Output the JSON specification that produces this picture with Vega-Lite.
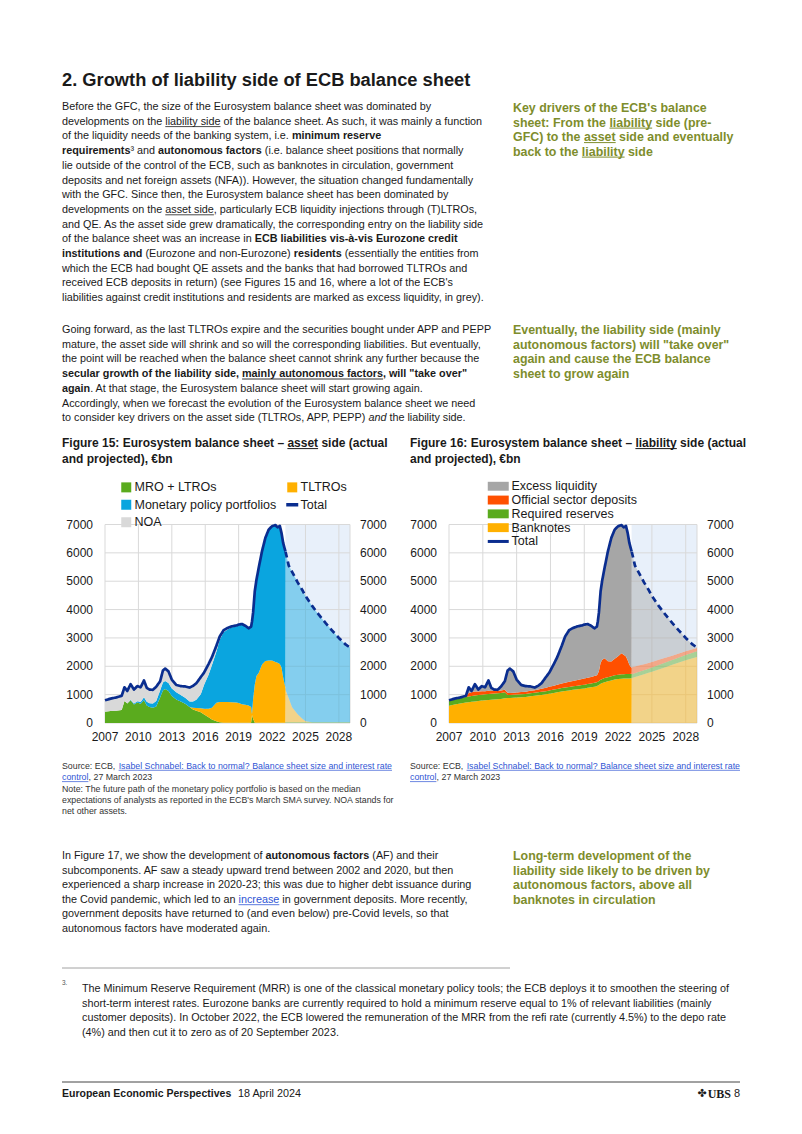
{
"$schema":"https://vega.github.io/schema/vega-lite/v6.json",
"width":802,"height":1134,"autosize":{"type":"none"},"padding":0,"background":"white",
"config":{"view":{"stroke":null}},
"datasets":{
"page":[
{"b":"title","l":0,"s":"2. Growth of liability side of ECB balance sheet"},
{"b":"p1","l":0,"s":"Before the GFC, the size of the Eurosystem balance sheet was dominated by"},
{"b":"p1","l":1,"s":"developments on the liability side of the balance sheet. As such, it was mainly a function"},
{"b":"p1","l":2,"s":"of the liquidity needs of the banking system, i.e."},
{"b":"p1x292","l":2,"s":"minimum reserve"},
{"b":"p1b","l":3,"s":"requirements"},
{"b":"p1x130","l":3,"s":"³ and"},
{"b":"p1x158","l":3,"s":"autonomous factors"},
{"b":"p1x265","l":3,"s":"(i.e. balance sheet positions that normally"},
{"b":"p1","l":4,"s":"lie outside of the control of the ECB, such as banknotes in circulation, government"},
{"b":"p1","l":5,"s":"deposits and net foreign assets (NFA)). However, the situation changed fundamentally"},
{"b":"p1","l":6,"s":"with the GFC. Since then, the Eurosystem balance sheet has been dominated by"},
{"b":"p1","l":7,"s":"developments on the asset side, particularly ECB liquidity injections through (T)LTROs,"},
{"b":"p1","l":8,"s":"and QE. As the asset side grew dramatically, the corresponding entry on the liability side"},
{"b":"p1","l":9,"s":"of the balance sheet was an increase in"},
{"b":"p1x255","l":9,"s":"ECB liabilities vis-à-vis Eurozone credit"},
{"b":"p1b","l":10,"s":"institutions and"},
{"b":"p1x145","l":10,"s":"(Eurozone and non-Eurozone)"},
{"b":"p1x294","l":10,"s":"residents"},
{"b":"p1x345","l":10,"s":"(essentially the entities from"},
{"b":"p1","l":11,"s":"which the ECB had bought QE assets and the banks that had borrowed TLTROs and"},
{"b":"p1","l":12,"s":"received ECB deposits in return) (see Figures 15 and 16, where a lot of the ECB's"},
{"b":"p1","l":13,"s":"liabilities against credit institutions and residents are marked as excess liquidity, in grey)."},
{"b":"s1","l":0,"s":"Key drivers of the ECB's balance"},
{"b":"s1","l":1,"s":"sheet: From the liability side (pre-"},
{"b":"s1","l":2,"s":"GFC) to the asset side and eventually"},
{"b":"s1","l":3,"s":"back to the liability side"},
{"b":"p2","l":0,"s":"Going forward, as the last TLTROs expire and the securities bought under APP and PEPP"},
{"b":"p2","l":1,"s":"mature, the asset side will shrink and so will the corresponding liabilities. But eventually,"},
{"b":"p2","l":2,"s":"the point will be reached when the balance sheet cannot shrink any further because the"},
{"b":"p2b","l":3,"s":"secular growth of the liability side, mainly autonomous factors, will \"take over\""},
{"b":"p2b","l":4,"s":"again"},
{"b":"p2x90","l":4,"s":". At that stage, the Eurosystem balance sheet will start growing again."},
{"b":"p2","l":5,"s":"Accordingly, when we forecast the evolution of the Eurosystem balance sheet we need"},
{"b":"p2","l":6,"s":"to consider key drivers on the asset side (TLTROs, APP, PEPP)"},
{"b":"p2i","l":6,"s":"and"},
{"b":"p2x392","l":6,"s":"the liability side."},
{"b":"s2","l":0,"s":"Eventually, the liability side (mainly"},
{"b":"s2","l":1,"s":"autonomous factors) will \"take over\""},
{"b":"s2","l":2,"s":"again and cause the ECB balance"},
{"b":"s2","l":3,"s":"sheet to grow again"},
{"b":"f15","l":0,"s":"Figure 15: Eurosystem balance sheet – asset side (actual"},
{"b":"f15","l":1,"s":"and projected), €bn"},
{"b":"f16","l":0,"s":"Figure 16: Eurosystem balance sheet – liability side (actual"},
{"b":"f16","l":1,"s":"and projected), €bn"},
{"b":"src15g","l":0,"s":"Source: ECB,"},
{"b":"src15c","l":1,"s":", 27 March 2023"},
{"b":"src15g","l":2,"s":"Note: The future path of the monetary policy portfolio is based on the median"},
{"b":"src15g","l":3,"s":"expectations of analysts as reported in the ECB's March SMA survey. NOA stands for"},
{"b":"src15g","l":4,"s":"net other assets."},
{"b":"src15b","l":1,"s":"control"},
{"b":"src15br","l":0,"s":"Isabel Schnabel: Back to normal? Balance sheet size and interest rate"},
{"b":"src16g","l":0,"s":"Source: ECB,"},
{"b":"src16c","l":1,"s":", 27 March 2023"},
{"b":"src16b","l":1,"s":"control"},
{"b":"src16br","l":0,"s":"Isabel Schnabel: Back to normal? Balance sheet size and interest rate"},
{"b":"p3","l":0,"s":"In Figure 17, we show the development of"},
{"b":"p3x266","l":0,"s":"autonomous factors"},
{"b":"p3x372","l":0,"s":"(AF) and their"},
{"b":"p3","l":1,"s":"subcomponents. AF saw a steady upward trend between 2002 and 2020, but then"},
{"b":"p3","l":2,"s":"experienced a sharp increase in 2020-23; this was due to higher debt issuance during"},
{"b":"p3","l":3,"s":"the Covid pandemic, which led to an"},
{"b":"p3x239","l":3,"s":"increase"},
{"b":"p3x282","l":3,"s":"in government deposits. More recently,"},
{"b":"p3","l":4,"s":"government deposits have returned to (and even below) pre-Covid levels, so that"},
{"b":"p3","l":5,"s":"autonomous factors have moderated again."},
{"b":"s3","l":0,"s":"Long-term development of the"},
{"b":"s3","l":1,"s":"liability side likely to be driven by"},
{"b":"s3","l":2,"s":"autonomous factors, above all"},
{"b":"s3","l":3,"s":"banknotes in circulation"},
{"b":"fnm","l":0,"s":"3."},
{"b":"fn","l":0,"s":"The Minimum Reserve Requirement (MRR) is one of the classical monetary policy tools; the ECB deploys it to smoothen the steering of"},
{"b":"fn","l":1,"s":"short-term interest rates. Eurozone banks are currently required to hold a minimum reserve equal to 1% of relevant liabilities (mainly"},
{"b":"fn","l":2,"s":"customer deposits). In October 2022, the ECB lowered the remuneration of the MRR from the refi rate (currently 4.5%) to the depo rate"},
{"b":"fn","l":3,"s":"(4%) and then cut it to zero as of 20 September 2023."},
{"b":"ftb","l":0,"s":"European Economic Perspectives"},
{"b":"ftd","l":0,"s":"18 April 2024"},
{"b":"ftu","l":0,"s":"UBS"},
{"b":"ft8","l":0,"s":"8"},
{"b":"ftl","l":0,"s":"✤"}
],
"c15":[
{"t":2007.0,"p":"a","MRO + LTROs":400,"TLTROs":0,"Monetary policy portfolios":0,"NOA":400},
{"t":2007.5,"p":"a","MRO + LTROs":420,"TLTROs":0,"Monetary policy portfolios":0,"NOA":440},
{"t":2008.0,"p":"a","MRO + LTROs":430,"TLTROs":0,"Monetary policy portfolios":0,"NOA":470},
{"t":2008.5,"p":"a","MRO + LTROs":460,"TLTROs":0,"Monetary policy portfolios":0,"NOA":500},
{"t":2008.75,"p":"a","MRO + LTROs":780,"TLTROs":0,"Monetary policy portfolios":0,"NOA":480},
{"t":2009.0,"p":"a","MRO + LTROs":690,"TLTROs":0,"Monetary policy portfolios":0,"NOA":440},
{"t":2009.3,"p":"a","MRO + LTROs":800,"TLTROs":0,"Monetary policy portfolios":20,"NOA":550},
{"t":2009.6,"p":"a","MRO + LTROs":650,"TLTROs":0,"Monetary policy portfolios":40,"NOA":490},
{"t":2009.9,"p":"a","MRO + LTROs":720,"TLTROs":0,"Monetary policy portfolios":50,"NOA":530},
{"t":2010.2,"p":"a","MRO + LTROs":680,"TLTROs":0,"Monetary policy portfolios":60,"NOA":520},
{"t":2010.5,"p":"a","MRO + LTROs":800,"TLTROs":0,"Monetary policy portfolios":110,"NOA":590},
{"t":2010.75,"p":"a","MRO + LTROs":620,"TLTROs":0,"Monetary policy portfolios":130,"NOA":490},
{"t":2011.0,"p":"a","MRO + LTROs":560,"TLTROs":0,"Monetary policy portfolios":140,"NOA":480},
{"t":2011.3,"p":"a","MRO + LTROs":540,"TLTROs":0,"Monetary policy portfolios":150,"NOA":480},
{"t":2011.6,"p":"a","MRO + LTROs":580,"TLTROs":0,"Monetary policy portfolios":200,"NOA":500},
{"t":2011.95,"p":"a","MRO + LTROs":900,"TLTROs":0,"Monetary policy portfolios":250,"NOA":320},
{"t":2012.2,"p":"a","MRO + LTROs":1150,"TLTROs":0,"Monetary policy portfolios":280,"NOA":420},
{"t":2012.4,"p":"a","MRO + LTROs":1200,"TLTROs":0,"Monetary policy portfolios":280,"NOA":440},
{"t":2012.7,"p":"a","MRO + LTROs":1130,"TLTROs":0,"Monetary policy portfolios":280,"NOA":410},
{"t":2013.0,"p":"a","MRO + LTROs":950,"TLTROs":0,"Monetary policy portfolios":270,"NOA":310},
{"t":2013.4,"p":"a","MRO + LTROs":830,"TLTROs":0,"Monetary policy portfolios":250,"NOA":260},
{"t":2013.8,"p":"a","MRO + LTROs":760,"TLTROs":0,"Monetary policy portfolios":230,"NOA":310},
{"t":2014.2,"p":"a","MRO + LTROs":680,"TLTROs":0,"Monetary policy portfolios":210,"NOA":400},
{"t":2014.6,"p":"a","MRO + LTROs":560,"TLTROs":0,"Monetary policy portfolios":200,"NOA":490},
{"t":2014.9,"p":"a","MRO + LTROs":480,"TLTROs":60,"Monetary policy portfolios":220,"NOA":550},
{"t":2015.2,"p":"a","MRO + LTROs":430,"TLTROs":100,"Monetary policy portfolios":290,"NOA":580},
{"t":2015.6,"p":"a","MRO + LTROs":380,"TLTROs":140,"Monetary policy portfolios":490,"NOA":610},
{"t":2015.9,"p":"a","MRO + LTROs":300,"TLTROs":200,"Monetary policy portfolios":850,"NOA":430},
{"t":2016.3,"p":"a","MRO + LTROs":200,"TLTROs":300,"Monetary policy portfolios":1200,"NOA":380},
{"t":2016.6,"p":"a","MRO + LTROs":120,"TLTROs":420,"Monetary policy portfolios":1500,"NOA":280},
{"t":2017.0,"p":"a","MRO + LTROs":60,"TLTROs":650,"Monetary policy portfolios":1800,"NOA":210},
{"t":2017.3,"p":"a","MRO + LTROs":30,"TLTROs":710,"Monetary policy portfolios":2200,"NOA":110},
{"t":2017.65,"p":"a","MRO + LTROs":10,"TLTROs":730,"Monetary policy portfolios":2460,"NOA":70},
{"t":2018.0,"p":"a","MRO + LTROs":5,"TLTROs":735,"Monetary policy portfolios":2560,"NOA":50},
{"t":2018.4,"p":"a","MRO + LTROs":5,"TLTROs":730,"Monetary policy portfolios":2640,"NOA":35},
{"t":2018.8,"p":"a","MRO + LTROs":5,"TLTROs":720,"Monetary policy portfolios":2690,"NOA":25},
{"t":2019.0,"p":"a","MRO + LTROs":5,"TLTROs":700,"Monetary policy portfolios":2745,"NOA":20},
{"t":2019.3,"p":"a","MRO + LTROs":5,"TLTROs":660,"Monetary policy portfolios":2810,"NOA":15},
{"t":2019.6,"p":"a","MRO + LTROs":5,"TLTROs":640,"Monetary policy portfolios":2775,"NOA":10},
{"t":2019.9,"p":"a","MRO + LTROs":5,"TLTROs":610,"Monetary policy portfolios":2715,"NOA":10},
{"t":2020.12,"p":"a","MRO + LTROs":5,"TLTROs":560,"Monetary policy portfolios":2825,"NOA":10},
{"t":2020.2,"p":"a","MRO + LTROs":280,"TLTROs":30,"Monetary policy portfolios":3260,"NOA":10},
{"t":2020.3,"p":"a","MRO + LTROs":150,"TLTROs":700,"Monetary policy portfolios":3040,"NOA":10},
{"t":2020.45,"p":"a","MRO + LTROs":10,"TLTROs":1350,"Monetary policy portfolios":3280,"NOA":10},
{"t":2020.6,"p":"a","MRO + LTROs":5,"TLTROs":1650,"Monetary policy portfolios":3385,"NOA":10},
{"t":2020.8,"p":"a","MRO + LTROs":5,"TLTROs":1760,"Monetary policy portfolios":3695,"NOA":10},
{"t":2021.1,"p":"a","MRO + LTROs":5,"TLTROs":2060,"Monetary policy portfolios":3985,"NOA":10},
{"t":2021.4,"p":"a","MRO + LTROs":5,"TLTROs":2180,"Monetary policy portfolios":4335,"NOA":10},
{"t":2021.7,"p":"a","MRO + LTROs":5,"TLTROs":2200,"Monetary policy portfolios":4605,"NOA":10},
{"t":2022.0,"p":"a","MRO + LTROs":5,"TLTROs":2200,"Monetary policy portfolios":4725,"NOA":10},
{"t":2022.3,"p":"a","MRO + LTROs":5,"TLTROs":2150,"Monetary policy portfolios":4815,"NOA":10},
{"t":2022.5,"p":"a","MRO + LTROs":5,"TLTROs":2120,"Monetary policy portfolios":4765,"NOA":10},
{"t":2022.7,"p":"a","MRO + LTROs":5,"TLTROs":2080,"Monetary policy portfolios":4855,"NOA":10},
{"t":2022.85,"p":"a","MRO + LTROs":5,"TLTROs":1950,"Monetary policy portfolios":4735,"NOA":10},
{"t":2023.0,"p":"a","MRO + LTROs":5,"TLTROs":1600,"Monetary policy portfolios":4735,"NOA":10},
{"t":2023.2,"p":"a","MRO + LTROs":5,"TLTROs":1250,"Monetary policy portfolios":4785,"NOA":10},
{"t":2023.21,"p":"p","MRO + LTROs":25,"TLTROs":1150,"Monetary policy portfolios":4865,"NOA":0},
{"t":2023.5,"p":"p","MRO + LTROs":25,"TLTROs":850,"Monetary policy portfolios":4675,"NOA":0},
{"t":2023.8,"p":"p","MRO + LTROs":25,"TLTROs":530,"Monetary policy portfolios":4775,"NOA":0},
{"t":2024.3,"p":"p","MRO + LTROs":25,"TLTROs":280,"Monetary policy portfolios":4655,"NOA":0},
{"t":2024.7,"p":"p","MRO + LTROs":25,"TLTROs":130,"Monetary policy portfolios":4545,"NOA":0},
{"t":2025.0,"p":"p","MRO + LTROs":25,"TLTROs":40,"Monetary policy portfolios":4415,"NOA":0},
{"t":2025.6,"p":"p","MRO + LTROs":25,"TLTROs":0,"Monetary policy portfolios":4105,"NOA":0},
{"t":2026.2,"p":"p","MRO + LTROs":25,"TLTROs":0,"Monetary policy portfolios":3795,"NOA":0},
{"t":2026.8,"p":"p","MRO + LTROs":25,"TLTROs":0,"Monetary policy portfolios":3505,"NOA":0},
{"t":2027.4,"p":"p","MRO + LTROs":25,"TLTROs":0,"Monetary policy portfolios":3235,"NOA":0},
{"t":2028.0,"p":"p","MRO + LTROs":25,"TLTROs":0,"Monetary policy portfolios":2975,"NOA":0},
{"t":2028.6,"p":"p","MRO + LTROs":25,"TLTROs":0,"Monetary policy portfolios":2745,"NOA":0},
{"t":2029.0,"p":"p","MRO + LTROs":25,"TLTROs":0,"Monetary policy portfolios":2635,"NOA":0}
],
"c16":[
{"t":2007.0,"p":"a","Banknotes":610,"Required reserves":170,"Official sector deposits":20,"Excess liquidity":0},
{"t":2007.5,"p":"a","Banknotes":650,"Required reserves":180,"Official sector deposits":30,"Excess liquidity":0},
{"t":2008.0,"p":"a","Banknotes":690,"Required reserves":195,"Official sector deposits":15,"Excess liquidity":0},
{"t":2008.5,"p":"a","Banknotes":720,"Required reserves":200,"Official sector deposits":40,"Excess liquidity":0},
{"t":2008.75,"p":"a","Banknotes":735,"Required reserves":200,"Official sector deposits":120,"Excess liquidity":205},
{"t":2009.0,"p":"a","Banknotes":745,"Required reserves":205,"Official sector deposits":130,"Excess liquidity":50},
{"t":2009.3,"p":"a","Banknotes":760,"Required reserves":210,"Official sector deposits":140,"Excess liquidity":260},
{"t":2009.6,"p":"a","Banknotes":775,"Required reserves":210,"Official sector deposits":130,"Excess liquidity":65},
{"t":2009.9,"p":"a","Banknotes":790,"Required reserves":210,"Official sector deposits":120,"Excess liquidity":180},
{"t":2010.2,"p":"a","Banknotes":800,"Required reserves":210,"Official sector deposits":110,"Excess liquidity":140},
{"t":2010.5,"p":"a","Banknotes":810,"Required reserves":210,"Official sector deposits":120,"Excess liquidity":360},
{"t":2010.75,"p":"a","Banknotes":820,"Required reserves":210,"Official sector deposits":100,"Excess liquidity":110},
{"t":2011.0,"p":"a","Banknotes":830,"Required reserves":210,"Official sector deposits":90,"Excess liquidity":50},
{"t":2011.3,"p":"a","Banknotes":840,"Required reserves":210,"Official sector deposits":80,"Excess liquidity":40},
{"t":2011.6,"p":"a","Banknotes":850,"Required reserves":210,"Official sector deposits":90,"Excess liquidity":130},
{"t":2011.95,"p":"a","Banknotes":870,"Required reserves":210,"Official sector deposits":90,"Excess liquidity":300},
{"t":2012.2,"p":"a","Banknotes":880,"Required reserves":110,"Official sector deposits":80,"Excess liquidity":780},
{"t":2012.4,"p":"a","Banknotes":885,"Required reserves":105,"Official sector deposits":70,"Excess liquidity":860},
{"t":2012.7,"p":"a","Banknotes":890,"Required reserves":105,"Official sector deposits":70,"Excess liquidity":755},
{"t":2013.0,"p":"a","Banknotes":900,"Required reserves":105,"Official sector deposits":70,"Excess liquidity":455},
{"t":2013.4,"p":"a","Banknotes":910,"Required reserves":105,"Official sector deposits":80,"Excess liquidity":245},
{"t":2013.8,"p":"a","Banknotes":920,"Required reserves":105,"Official sector deposits":80,"Excess liquidity":195},
{"t":2014.2,"p":"a","Banknotes":940,"Required reserves":105,"Official sector deposits":90,"Excess liquidity":155},
{"t":2014.6,"p":"a","Banknotes":960,"Required reserves":105,"Official sector deposits":90,"Excess liquidity":95},
{"t":2014.9,"p":"a","Banknotes":975,"Required reserves":110,"Official sector deposits":100,"Excess liquidity":125},
{"t":2015.2,"p":"a","Banknotes":990,"Required reserves":110,"Official sector deposits":110,"Excess liquidity":190},
{"t":2015.6,"p":"a","Banknotes":1010,"Required reserves":112,"Official sector deposits":120,"Excess liquidity":378},
{"t":2015.9,"p":"a","Banknotes":1030,"Required reserves":115,"Official sector deposits":130,"Excess liquidity":505},
{"t":2016.3,"p":"a","Banknotes":1060,"Required reserves":117,"Official sector deposits":140,"Excess liquidity":763},
{"t":2016.6,"p":"a","Banknotes":1080,"Required reserves":118,"Official sector deposits":150,"Excess liquidity":972},
{"t":2017.0,"p":"a","Banknotes":1110,"Required reserves":120,"Official sector deposits":160,"Excess liquidity":1330},
{"t":2017.3,"p":"a","Banknotes":1130,"Required reserves":122,"Official sector deposits":170,"Excess liquidity":1628},
{"t":2017.65,"p":"a","Banknotes":1150,"Required reserves":123,"Official sector deposits":180,"Excess liquidity":1817},
{"t":2018.0,"p":"a","Banknotes":1170,"Required reserves":125,"Official sector deposits":190,"Excess liquidity":1865},
{"t":2018.4,"p":"a","Banknotes":1190,"Required reserves":127,"Official sector deposits":200,"Excess liquidity":1893},
{"t":2018.8,"p":"a","Banknotes":1210,"Required reserves":128,"Official sector deposits":210,"Excess liquidity":1892},
{"t":2019.0,"p":"a","Banknotes":1220,"Required reserves":130,"Official sector deposits":215,"Excess liquidity":1905},
{"t":2019.3,"p":"a","Banknotes":1240,"Required reserves":132,"Official sector deposits":220,"Excess liquidity":1898},
{"t":2019.6,"p":"a","Banknotes":1260,"Required reserves":134,"Official sector deposits":230,"Excess liquidity":1806},
{"t":2019.9,"p":"a","Banknotes":1280,"Required reserves":136,"Official sector deposits":240,"Excess liquidity":1684},
{"t":2020.12,"p":"a","Banknotes":1300,"Required reserves":138,"Official sector deposits":250,"Excess liquidity":1712},
{"t":2020.2,"p":"a","Banknotes":1320,"Required reserves":139,"Official sector deposits":280,"Excess liquidity":1841},
{"t":2020.3,"p":"a","Banknotes":1340,"Required reserves":140,"Official sector deposits":350,"Excess liquidity":2070},
{"t":2020.45,"p":"a","Banknotes":1380,"Required reserves":142,"Official sector deposits":600,"Excess liquidity":2528},
{"t":2020.6,"p":"a","Banknotes":1410,"Required reserves":144,"Official sector deposits":680,"Excess liquidity":2816},
{"t":2020.8,"p":"a","Banknotes":1440,"Required reserves":145,"Official sector deposits":700,"Excess liquidity":3185},
{"t":2021.1,"p":"a","Banknotes":1470,"Required reserves":147,"Official sector deposits":560,"Excess liquidity":3883},
{"t":2021.4,"p":"a","Banknotes":1500,"Required reserves":150,"Official sector deposits":520,"Excess liquidity":4360},
{"t":2021.7,"p":"a","Banknotes":1530,"Required reserves":152,"Official sector deposits":580,"Excess liquidity":4558},
{"t":2022.0,"p":"a","Banknotes":1550,"Required reserves":155,"Official sector deposits":650,"Excess liquidity":4585},
{"t":2022.3,"p":"a","Banknotes":1560,"Required reserves":157,"Official sector deposits":740,"Excess liquidity":4523},
{"t":2022.5,"p":"a","Banknotes":1565,"Required reserves":158,"Official sector deposits":680,"Excess liquidity":4497},
{"t":2022.7,"p":"a","Banknotes":1568,"Required reserves":160,"Official sector deposits":620,"Excess liquidity":4602},
{"t":2022.85,"p":"a","Banknotes":1570,"Required reserves":160,"Official sector deposits":480,"Excess liquidity":4490},
{"t":2023.0,"p":"a","Banknotes":1572,"Required reserves":160,"Official sector deposits":320,"Excess liquidity":4298},
{"t":2023.2,"p":"a","Banknotes":1575,"Required reserves":160,"Official sector deposits":200,"Excess liquidity":4115},
{"t":2023.21,"p":"p","Banknotes":1590,"Required reserves":130,"Official sector deposits":250,"Excess liquidity":4070},
{"t":2023.5,"p":"p","Banknotes":1620,"Required reserves":132,"Official sector deposits":240,"Excess liquidity":3558},
{"t":2023.8,"p":"p","Banknotes":1660,"Required reserves":135,"Official sector deposits":230,"Excess liquidity":3305},
{"t":2024.3,"p":"p","Banknotes":1720,"Required reserves":140,"Official sector deposits":215,"Excess liquidity":2885},
{"t":2024.7,"p":"p","Banknotes":1770,"Required reserves":145,"Official sector deposits":205,"Excess liquidity":2580},
{"t":2025.0,"p":"p","Banknotes":1810,"Required reserves":150,"Official sector deposits":195,"Excess liquidity":2325},
{"t":2025.6,"p":"p","Banknotes":1890,"Required reserves":158,"Official sector deposits":180,"Excess liquidity":1902},
{"t":2026.2,"p":"p","Banknotes":1970,"Required reserves":165,"Official sector deposits":165,"Excess liquidity":1520},
{"t":2026.8,"p":"p","Banknotes":2050,"Required reserves":175,"Official sector deposits":150,"Excess liquidity":1155},
{"t":2027.4,"p":"p","Banknotes":2130,"Required reserves":183,"Official sector deposits":140,"Excess liquidity":807},
{"t":2028.0,"p":"p","Banknotes":2210,"Required reserves":190,"Official sector deposits":130,"Excess liquidity":470},
{"t":2028.6,"p":"p","Banknotes":2280,"Required reserves":197,"Official sector deposits":122,"Excess liquidity":171},
{"t":2029.0,"p":"p","Banknotes":2330,"Required reserves":200,"Official sector deposits":115,"Excess liquidity":15}
],
"tot":[
{"t":2007.0,"p":"a","v":800},{"t":2007.5,"p":"a","v":860},{"t":2008.0,"p":"a","v":900},{"t":2008.5,"p":"a","v":960},
{"t":2008.75,"p":"a","v":1260},{"t":2009.0,"p":"a","v":1130},{"t":2009.3,"p":"a","v":1370},{"t":2009.6,"p":"a","v":1180},
{"t":2009.9,"p":"a","v":1300},{"t":2010.2,"p":"a","v":1260},{"t":2010.5,"p":"a","v":1500},{"t":2010.75,"p":"a","v":1240},
{"t":2011.0,"p":"a","v":1180},{"t":2011.3,"p":"a","v":1170},{"t":2011.6,"p":"a","v":1280},{"t":2011.95,"p":"a","v":1470},
{"t":2012.2,"p":"a","v":1850},{"t":2012.4,"p":"a","v":1920},{"t":2012.7,"p":"a","v":1820},{"t":2013.0,"p":"a","v":1530},
{"t":2013.4,"p":"a","v":1340},{"t":2013.8,"p":"a","v":1300},{"t":2014.2,"p":"a","v":1290},{"t":2014.6,"p":"a","v":1250},
{"t":2014.9,"p":"a","v":1310},{"t":2015.2,"p":"a","v":1400},{"t":2015.6,"p":"a","v":1620},{"t":2015.9,"p":"a","v":1780},
{"t":2016.3,"p":"a","v":2080},{"t":2016.6,"p":"a","v":2320},{"t":2017.0,"p":"a","v":2720},{"t":2017.3,"p":"a","v":3050},
{"t":2017.65,"p":"a","v":3270},{"t":2018.0,"p":"a","v":3350},{"t":2018.4,"p":"a","v":3410},{"t":2018.8,"p":"a","v":3440},
{"t":2019.0,"p":"a","v":3470},{"t":2019.3,"p":"a","v":3490},{"t":2019.6,"p":"a","v":3430},{"t":2019.9,"p":"a","v":3340},
{"t":2020.12,"p":"a","v":3400},{"t":2020.2,"p":"a","v":3580},{"t":2020.3,"p":"a","v":3900},{"t":2020.45,"p":"a","v":4650},
{"t":2020.6,"p":"a","v":5050},{"t":2020.8,"p":"a","v":5470},{"t":2021.1,"p":"a","v":6060},{"t":2021.4,"p":"a","v":6530},
{"t":2021.7,"p":"a","v":6820},{"t":2022.0,"p":"a","v":6940},{"t":2022.3,"p":"a","v":6980},{"t":2022.5,"p":"a","v":6900},
{"t":2022.7,"p":"a","v":6950},{"t":2022.85,"p":"a","v":6700},{"t":2023.0,"p":"a","v":6350},{"t":2023.2,"p":"a","v":6050},
{"t":2023.21,"p":"p","v":6040},{"t":2023.5,"p":"p","v":5550},{"t":2023.8,"p":"p","v":5330},{"t":2024.3,"p":"p","v":4960},
{"t":2024.7,"p":"p","v":4700},{"t":2025.0,"p":"p","v":4480},{"t":2025.6,"p":"p","v":4130},{"t":2026.2,"p":"p","v":3820},
{"t":2026.8,"p":"p","v":3530},{"t":2027.4,"p":"p","v":3260},{"t":2028.0,"p":"p","v":3000},{"t":2028.6,"p":"p","v":2770},
{"t":2029.0,"p":"p","v":2660}
],
"xg":[{"yr":2007},{"yr":2010},{"yr":2013},{"yr":2016},{"yr":2019},{"yr":2022},{"yr":2025},{"yr":2028},{"yr":2029}],
"yg":[{"v":0},{"v":1000},{"v":2000},{"v":3000},{"v":4000},{"v":5000},{"v":6000},{"v":7000}],
"proj":[{"a":2023.2,"b":2029}]
},
"layer":[
{"data":{"values":[{}]},"mark":{"type":"rule","color":"#8a8a8a","strokeWidth":0.8},"encoding":{"x":{"value":62},"x2":{"value":510},"y":{"value":968}}},
{"data":{"values":[{}]},"mark":{"type":"rule","color":"#444444","strokeWidth":1},"encoding":{"x":{"value":62},"x2":{"value":740},"y":{"value":1082}}},
{"data":{"values":[{}]},"mark":{"type":"rule","color":"#1a1a1a","strokeWidth":0.8},"encoding":{"x":{"value":165.3},"x2":{"value":220.5},"y":{"value":126.6}}},
{"data":{"values":[{}]},"mark":{"type":"rule","color":"#1a1a1a","strokeWidth":0.8},"encoding":{"x":{"value":165.3},"x2":{"value":213.9},"y":{"value":214.8}}},
{"data":{"values":[{}]},"mark":{"type":"rule","color":"#1a1a1a","strokeWidth":0.9},"encoding":{"x":{"value":242.1},"x2":{"value":383.1},"y":{"value":379.0}}},
{"data":{"values":[{}]},"mark":{"type":"rule","color":"#2f55d4","strokeWidth":0.8},"encoding":{"x":{"value":238.5},"x2":{"value":279.3},"y":{"value":904.7}}},
{"data":{"values":[{}]},"mark":{"type":"rule","color":"#2f55d4","strokeWidth":0.7},"encoding":{"x":{"value":118.6},"x2":{"value":392},"y":{"value":770.3}}},
{"data":{"values":[{}]},"mark":{"type":"rule","color":"#2f55d4","strokeWidth":0.7},"encoding":{"x":{"value":62},"x2":{"value":88.4},"y":{"value":781.6}}},
{"data":{"values":[{}]},"mark":{"type":"rule","color":"#2f55d4","strokeWidth":0.7},"encoding":{"x":{"value":466.6},"x2":{"value":740},"y":{"value":770.3}}},
{"data":{"values":[{}]},"mark":{"type":"rule","color":"#2f55d4","strokeWidth":0.7},"encoding":{"x":{"value":410},"x2":{"value":436.4},"y":{"value":781.6}}},
{"data":{"values":[{}]},"mark":{"type":"rule","color":"#1a1a1a","strokeWidth":1},"encoding":{"x":{"value":287.4},"x2":{"value":318.1},"y":{"value":448.6}}},
{"data":{"values":[{}]},"mark":{"type":"rule","color":"#1a1a1a","strokeWidth":1},"encoding":{"x":{"value":635.4},"x2":{"value":676.8},"y":{"value":448.6}}},
{"data":{"values":[{}]},"mark":{"type":"rule","color":"#7e8d2c","strokeWidth":1},"encoding":{"x":{"value":609.5},"x2":{"value":652.2},"y":{"value":128.1}}},
{"data":{"values":[{}]},"mark":{"type":"rule","color":"#7e8d2c","strokeWidth":1},"encoding":{"x":{"value":584.0},"x2":{"value":615.7},"y":{"value":142.6}}},
{"data":{"values":[{}]},"mark":{"type":"rule","color":"#7e8d2c","strokeWidth":1},"encoding":{"x":{"value":581.9},"x2":{"value":624.6},"y":{"value":157.1}}},
{"data":{"name":"page"},"transform":[{"filter":"datum.b==='title'"}],"mark":{"type":"text","align":"left","baseline":"middle","x":62,"font":"Liberation Sans","fontSize":18.3,"fontWeight":"bold","color":"#1a1a1a"},"encoding":{"y":{"field":"l","type":"quantitative","scale":{"domain":[0,1],"range":[81,82],"nice":false,"zero":false},"axis":null},"text":{"field":"s"}}},
{"data":{"name":"page"},"transform":[{"filter":"datum.b==='p1'"}],"mark":{"type":"text","align":"left","baseline":"middle","x":62,"font":"Liberation Sans","fontSize":10.8,"color":"#1a1a1a"},"encoding":{"y":{"field":"l","type":"quantitative","scale":{"domain":[0,1],"range":[107,121.7],"nice":false,"zero":false},"axis":null},"text":{"field":"s"}}},
{"data":{"name":"page"},"transform":[{"filter":"datum.b==='p1b'"}],"mark":{"type":"text","align":"left","baseline":"middle","x":62,"font":"Liberation Sans","fontSize":10.8,"fontWeight":"bold","color":"#1a1a1a"},"encoding":{"y":{"field":"l","type":"quantitative","scale":{"domain":[0,1],"range":[107,121.7],"nice":false,"zero":false},"axis":null},"text":{"field":"s"}}},
{"data":{"name":"page"},"transform":[{"filter":"datum.b==='p1x292'"}],"mark":{"type":"text","align":"left","baseline":"middle","x":291.9,"font":"Liberation Sans","fontSize":10.8,"fontWeight":"bold","color":"#1a1a1a"},"encoding":{"y":{"field":"l","type":"quantitative","scale":{"domain":[0,1],"range":[107,121.7],"nice":false,"zero":false},"axis":null},"text":{"field":"s"}}},
{"data":{"name":"page"},"transform":[{"filter":"datum.b==='p1x130'"}],"mark":{"type":"text","align":"left","baseline":"middle","x":130.4,"font":"Liberation Sans","fontSize":10.8,"color":"#1a1a1a"},"encoding":{"y":{"field":"l","type":"quantitative","scale":{"domain":[0,1],"range":[107,121.7],"nice":false,"zero":false},"axis":null},"text":{"field":"s"}}},
{"data":{"name":"page"},"transform":[{"filter":"datum.b==='p1x158'"}],"mark":{"type":"text","align":"left","baseline":"middle","x":158.0,"font":"Liberation Sans","fontSize":10.8,"fontWeight":"bold","color":"#1a1a1a"},"encoding":{"y":{"field":"l","type":"quantitative","scale":{"domain":[0,1],"range":[107,121.7],"nice":false,"zero":false},"axis":null},"text":{"field":"s"}}},
{"data":{"name":"page"},"transform":[{"filter":"datum.b==='p1x265'"}],"mark":{"type":"text","align":"left","baseline":"middle","x":264.8,"font":"Liberation Sans","fontSize":10.8,"color":"#1a1a1a"},"encoding":{"y":{"field":"l","type":"quantitative","scale":{"domain":[0,1],"range":[107,121.7],"nice":false,"zero":false},"axis":null},"text":{"field":"s"}}},
{"data":{"name":"page"},"transform":[{"filter":"datum.b==='p1x255'"}],"mark":{"type":"text","align":"left","baseline":"middle","x":254.7,"font":"Liberation Sans","fontSize":10.8,"fontWeight":"bold","color":"#1a1a1a"},"encoding":{"y":{"field":"l","type":"quantitative","scale":{"domain":[0,1],"range":[107,121.7],"nice":false,"zero":false},"axis":null},"text":{"field":"s"}}},
{"data":{"name":"page"},"transform":[{"filter":"datum.b==='p1x145'"}],"mark":{"type":"text","align":"left","baseline":"middle","x":145.4,"font":"Liberation Sans","fontSize":10.8,"color":"#1a1a1a"},"encoding":{"y":{"field":"l","type":"quantitative","scale":{"domain":[0,1],"range":[107,121.7],"nice":false,"zero":false},"axis":null},"text":{"field":"s"}}},
{"data":{"name":"page"},"transform":[{"filter":"datum.b==='p1x294'"}],"mark":{"type":"text","align":"left","baseline":"middle","x":293.7,"font":"Liberation Sans","fontSize":10.8,"fontWeight":"bold","color":"#1a1a1a"},"encoding":{"y":{"field":"l","type":"quantitative","scale":{"domain":[0,1],"range":[107,121.7],"nice":false,"zero":false},"axis":null},"text":{"field":"s"}}},
{"data":{"name":"page"},"transform":[{"filter":"datum.b==='p1x345'"}],"mark":{"type":"text","align":"left","baseline":"middle","x":344.7,"font":"Liberation Sans","fontSize":10.8,"color":"#1a1a1a"},"encoding":{"y":{"field":"l","type":"quantitative","scale":{"domain":[0,1],"range":[107,121.7],"nice":false,"zero":false},"axis":null},"text":{"field":"s"}}},
{"data":{"name":"page"},"transform":[{"filter":"datum.b==='p2'"}],"mark":{"type":"text","align":"left","baseline":"middle","x":62,"font":"Liberation Sans","fontSize":10.8,"color":"#1a1a1a"},"encoding":{"y":{"field":"l","type":"quantitative","scale":{"domain":[0,1],"range":[330,344.7],"nice":false,"zero":false},"axis":null},"text":{"field":"s"}}},
{"data":{"name":"page"},"transform":[{"filter":"datum.b==='p2b'"}],"mark":{"type":"text","align":"left","baseline":"middle","x":62,"font":"Liberation Sans","fontSize":10.8,"fontWeight":"bold","color":"#1a1a1a"},"encoding":{"y":{"field":"l","type":"quantitative","scale":{"domain":[0,1],"range":[330,344.7],"nice":false,"zero":false},"axis":null},"text":{"field":"s"}}},
{"data":{"name":"page"},"transform":[{"filter":"datum.b==='p2x90'"}],"mark":{"type":"text","align":"left","baseline":"middle","x":90.2,"font":"Liberation Sans","fontSize":10.8,"color":"#1a1a1a"},"encoding":{"y":{"field":"l","type":"quantitative","scale":{"domain":[0,1],"range":[330,344.7],"nice":false,"zero":false},"axis":null},"text":{"field":"s"}}},
{"data":{"name":"page"},"transform":[{"filter":"datum.b==='p2i'"}],"mark":{"type":"text","align":"left","baseline":"middle","x":368.4,"font":"Liberation Sans","fontSize":10.8,"fontStyle":"italic","color":"#1a1a1a"},"encoding":{"y":{"field":"l","type":"quantitative","scale":{"domain":[0,1],"range":[330,344.7],"nice":false,"zero":false},"axis":null},"text":{"field":"s"}}},
{"data":{"name":"page"},"transform":[{"filter":"datum.b==='p2x392'"}],"mark":{"type":"text","align":"left","baseline":"middle","x":389.4,"font":"Liberation Sans","fontSize":10.8,"color":"#1a1a1a"},"encoding":{"y":{"field":"l","type":"quantitative","scale":{"domain":[0,1],"range":[330,344.7],"nice":false,"zero":false},"axis":null},"text":{"field":"s"}}},
{"data":{"name":"page"},"transform":[{"filter":"datum.b==='p3'"}],"mark":{"type":"text","align":"left","baseline":"middle","x":62,"font":"Liberation Sans","fontSize":10.8,"color":"#1a1a1a"},"encoding":{"y":{"field":"l","type":"quantitative","scale":{"domain":[0,1],"range":[856,870.6],"nice":false,"zero":false},"axis":null},"text":{"field":"s"}}},
{"data":{"name":"page"},"transform":[{"filter":"datum.b==='p3x266'"}],"mark":{"type":"text","align":"left","baseline":"middle","x":265.5,"font":"Liberation Sans","fontSize":10.8,"fontWeight":"bold","color":"#1a1a1a"},"encoding":{"y":{"field":"l","type":"quantitative","scale":{"domain":[0,1],"range":[856,870.6],"nice":false,"zero":false},"axis":null},"text":{"field":"s"}}},
{"data":{"name":"page"},"transform":[{"filter":"datum.b==='p3x372'"}],"mark":{"type":"text","align":"left","baseline":"middle","x":372.3,"font":"Liberation Sans","fontSize":10.8,"color":"#1a1a1a"},"encoding":{"y":{"field":"l","type":"quantitative","scale":{"domain":[0,1],"range":[856,870.6],"nice":false,"zero":false},"axis":null},"text":{"field":"s"}}},
{"data":{"name":"page"},"transform":[{"filter":"datum.b==='p3x239'"}],"mark":{"type":"text","align":"left","baseline":"middle","x":238.5,"font":"Liberation Sans","fontSize":10.8,"color":"#2f55d4"},"encoding":{"y":{"field":"l","type":"quantitative","scale":{"domain":[0,1],"range":[856,870.6],"nice":false,"zero":false},"axis":null},"text":{"field":"s"}}},
{"data":{"name":"page"},"transform":[{"filter":"datum.b==='p3x282'"}],"mark":{"type":"text","align":"left","baseline":"middle","x":282.3,"font":"Liberation Sans","fontSize":10.8,"color":"#1a1a1a"},"encoding":{"y":{"field":"l","type":"quantitative","scale":{"domain":[0,1],"range":[856,870.6],"nice":false,"zero":false},"axis":null},"text":{"field":"s"}}},
{"data":{"name":"page"},"transform":[{"filter":"datum.b==='s1'"}],"mark":{"type":"text","align":"left","baseline":"middle","x":513,"font":"Liberation Sans","fontSize":12.4,"fontWeight":"bold","color":"#7e8d2c"},"encoding":{"y":{"field":"l","type":"quantitative","scale":{"domain":[0,1],"range":[108,122.5],"nice":false,"zero":false},"axis":null},"text":{"field":"s"}}},
{"data":{"name":"page"},"transform":[{"filter":"datum.b==='s2'"}],"mark":{"type":"text","align":"left","baseline":"middle","x":513,"font":"Liberation Sans","fontSize":12.4,"fontWeight":"bold","color":"#7e8d2c"},"encoding":{"y":{"field":"l","type":"quantitative","scale":{"domain":[0,1],"range":[330,344.5],"nice":false,"zero":false},"axis":null},"text":{"field":"s"}}},
{"data":{"name":"page"},"transform":[{"filter":"datum.b==='s3'"}],"mark":{"type":"text","align":"left","baseline":"middle","x":513,"font":"Liberation Sans","fontSize":12.4,"fontWeight":"bold","color":"#7e8d2c"},"encoding":{"y":{"field":"l","type":"quantitative","scale":{"domain":[0,1],"range":[856,870.5],"nice":false,"zero":false},"axis":null},"text":{"field":"s"}}},
{"data":{"name":"page"},"transform":[{"filter":"datum.b==='f15'"}],"mark":{"type":"text","align":"left","baseline":"middle","x":62,"font":"Liberation Sans","fontSize":12,"fontWeight":"bold","color":"#1a1a1a"},"encoding":{"y":{"field":"l","type":"quantitative","scale":{"domain":[0,1],"range":[443,459],"nice":false,"zero":false},"axis":null},"text":{"field":"s"}}},
{"data":{"name":"page"},"transform":[{"filter":"datum.b==='f16'"}],"mark":{"type":"text","align":"left","baseline":"middle","x":410,"font":"Liberation Sans","fontSize":12,"fontWeight":"bold","color":"#1a1a1a"},"encoding":{"y":{"field":"l","type":"quantitative","scale":{"domain":[0,1],"range":[443,459],"nice":false,"zero":false},"axis":null},"text":{"field":"s"}}},
{"data":{"name":"page"},"transform":[{"filter":"datum.b==='src15g'"}],"mark":{"type":"text","align":"left","baseline":"middle","x":62,"font":"Liberation Sans","fontSize":8.8,"color":"#333333"},"encoding":{"y":{"field":"l","type":"quantitative","scale":{"domain":[0,1],"range":[766,777.3],"nice":false,"zero":false},"axis":null},"text":{"field":"s"}}},
{"data":{"name":"page"},"transform":[{"filter":"datum.b==='src15c'"}],"mark":{"type":"text","align":"left","baseline":"middle","x":88.6,"font":"Liberation Sans","fontSize":8.8,"color":"#333333"},"encoding":{"y":{"field":"l","type":"quantitative","scale":{"domain":[0,1],"range":[766,777.3],"nice":false,"zero":false},"axis":null},"text":{"field":"s"}}},
{"data":{"name":"page"},"transform":[{"filter":"datum.b==='src15b'"}],"mark":{"type":"text","align":"left","baseline":"middle","x":62,"font":"Liberation Sans","fontSize":8.8,"color":"#2f55d4"},"encoding":{"y":{"field":"l","type":"quantitative","scale":{"domain":[0,1],"range":[766,777.3],"nice":false,"zero":false},"axis":null},"text":{"field":"s"}}},
{"data":{"name":"page"},"transform":[{"filter":"datum.b==='src15br'"}],"mark":{"type":"text","align":"right","baseline":"middle","x":392,"font":"Liberation Sans","fontSize":8.8,"color":"#2f55d4"},"encoding":{"y":{"field":"l","type":"quantitative","scale":{"domain":[0,1],"range":[766,777.3],"nice":false,"zero":false},"axis":null},"text":{"field":"s"}}},
{"data":{"name":"page"},"transform":[{"filter":"datum.b==='src16g'"}],"mark":{"type":"text","align":"left","baseline":"middle","x":410,"font":"Liberation Sans","fontSize":8.8,"color":"#333333"},"encoding":{"y":{"field":"l","type":"quantitative","scale":{"domain":[0,1],"range":[766,777.3],"nice":false,"zero":false},"axis":null},"text":{"field":"s"}}},
{"data":{"name":"page"},"transform":[{"filter":"datum.b==='src16c'"}],"mark":{"type":"text","align":"left","baseline":"middle","x":436.6,"font":"Liberation Sans","fontSize":8.8,"color":"#333333"},"encoding":{"y":{"field":"l","type":"quantitative","scale":{"domain":[0,1],"range":[766,777.3],"nice":false,"zero":false},"axis":null},"text":{"field":"s"}}},
{"data":{"name":"page"},"transform":[{"filter":"datum.b==='src16b'"}],"mark":{"type":"text","align":"left","baseline":"middle","x":410,"font":"Liberation Sans","fontSize":8.8,"color":"#2f55d4"},"encoding":{"y":{"field":"l","type":"quantitative","scale":{"domain":[0,1],"range":[766,777.3],"nice":false,"zero":false},"axis":null},"text":{"field":"s"}}},
{"data":{"name":"page"},"transform":[{"filter":"datum.b==='src16br'"}],"mark":{"type":"text","align":"right","baseline":"middle","x":740,"font":"Liberation Sans","fontSize":8.8,"color":"#2f55d4"},"encoding":{"y":{"field":"l","type":"quantitative","scale":{"domain":[0,1],"range":[766,777.3],"nice":false,"zero":false},"axis":null},"text":{"field":"s"}}},
{"data":{"name":"page"},"transform":[{"filter":"datum.b==='fnm'"}],"mark":{"type":"text","align":"left","baseline":"middle","x":62,"font":"Liberation Sans","fontSize":6.5,"color":"#555555"},"encoding":{"y":{"field":"l","type":"quantitative","scale":{"domain":[0,1],"range":[983,984],"nice":false,"zero":false},"axis":null},"text":{"field":"s"}}},
{"data":{"name":"page"},"transform":[{"filter":"datum.b==='fn'"}],"mark":{"type":"text","align":"left","baseline":"middle","x":82,"font":"Liberation Sans","fontSize":10.8,"color":"#1a1a1a"},"encoding":{"y":{"field":"l","type":"quantitative","scale":{"domain":[0,1],"range":[989,1003.5],"nice":false,"zero":false},"axis":null},"text":{"field":"s"}}},
{"data":{"name":"page"},"transform":[{"filter":"datum.b==='ftb'"}],"mark":{"type":"text","align":"left","baseline":"middle","x":62,"font":"Liberation Sans","fontSize":10.5,"fontWeight":"bold","color":"#1a1a1a"},"encoding":{"y":{"field":"l","type":"quantitative","scale":{"domain":[0,1],"range":[1094,1095],"nice":false,"zero":false},"axis":null},"text":{"field":"s"}}},
{"data":{"name":"page"},"transform":[{"filter":"datum.b==='ftd'"}],"mark":{"type":"text","align":"left","baseline":"middle","x":238,"font":"Liberation Sans","fontSize":10.8,"color":"#1a1a1a"},"encoding":{"y":{"field":"l","type":"quantitative","scale":{"domain":[0,1],"range":[1094,1095],"nice":false,"zero":false},"axis":null},"text":{"field":"s"}}},
{"data":{"name":"page"},"transform":[{"filter":"datum.b==='ft8'"}],"mark":{"type":"text","align":"right","baseline":"middle","x":740,"font":"Liberation Sans","fontSize":11,"color":"#1a1a1a"},"encoding":{"y":{"field":"l","type":"quantitative","scale":{"domain":[0,1],"range":[1094,1095],"nice":false,"zero":false},"axis":null},"text":{"field":"s"}}},
{"data":{"name":"page"},"transform":[{"filter":"datum.b==='ftu'"}],"mark":{"type":"text","align":"right","baseline":"middle","x":731,"font":"Liberation Serif","fontSize":12,"fontWeight":"bold","color":"#1a1a1a"},"encoding":{"y":{"field":"l","type":"quantitative","scale":{"domain":[0,1],"range":[1094,1095],"nice":false,"zero":false},"axis":null},"text":{"field":"s"}}},
{"data":{"name":"page"},"transform":[{"filter":"datum.b==='ftl'"}],"mark":{"type":"text","align":"center","baseline":"middle","x":702,"font":"DejaVu Sans","fontSize":11,"color":"#1a1a1a"},"encoding":{"y":{"field":"l","type":"quantitative","scale":{"domain":[0,1],"range":[1094,1095],"nice":false,"zero":false},"axis":null},"text":{"field":"s"}}},
{"layer":[
 {"data":{"name":"proj"},"mark":{"type":"rect","color":"#e8f0fa"},"encoding":{"x":{"field":"a","type":"quantitative","scale":{"domain":[2007,2029],"range":[105,350],"nice":false,"zero":false},"axis":null},"x2":{"field":"b"},"y":{"datum":0,"type":"quantitative","scale":{"domain":[0,7000],"range":[723,524.5],"nice":false,"zero":false},"axis":null},"y2":{"datum":7000}}},
 {"data":{"name":"xg"},"mark":{"type":"rule","color":"#d9d9d9","strokeWidth":1},"encoding":{"x":{"field":"yr","type":"quantitative","scale":{"domain":[2007,2029],"range":[105,350],"nice":false,"zero":false},"axis":null},"y":{"datum":0,"type":"quantitative","scale":{"domain":[0,7000],"range":[723,524.5],"nice":false,"zero":false},"axis":null},"y2":{"datum":7000}}},
 {"data":{"name":"yg"},"mark":{"type":"rule","color":"#d9d9d9","strokeWidth":1},"encoding":{"y":{"field":"v","type":"quantitative","scale":{"domain":[0,7000],"range":[723,524.5],"nice":false,"zero":false},"axis":null},"x":{"datum":2007,"type":"quantitative","scale":{"domain":[2007,2029],"range":[105,350],"nice":false,"zero":false},"axis":null},"x2":{"datum":2029}}},
 {"data":{"name":"c15"},"transform":[{"fold":["MRO + LTROs","TLTROs","Monetary policy portfolios","NOA"],"as":["s","v"]},{"lookup":"s","from":{"data":{"values":[{"s":"MRO + LTROs","k":1},{"s":"TLTROs","k":2},{"s":"Monetary policy portfolios","k":3},{"s":"NOA","k":4}]},"key":"s","fields":["k"]}}],
  "mark":{"type":"area"},
  "encoding":{
   "x":{"field":"t","type":"quantitative","scale":{"domain":[2007,2029],"range":[105,350],"nice":false,"zero":false},"axis":null},
   "y":{"field":"v","type":"quantitative","stack":"zero","scale":{"domain":[0,7000],"range":[723,524.5],"nice":false,"zero":false},"axis":null},
   "color":{"field":"s","type":"nominal","scale":{"domain":["MRO + LTROs","Monetary policy portfolios","NOA","TLTROs","Total"],"range":["#5aab1e","#0aa5df","#d9d9d9","#ffb000","#0a2d8f"]},
     "legend":{"orient":"none","legendX":120,"legendY":481,"title":null,"columns":2,"columnPadding":2,"rowPadding":3.5,"symbolType":"square","symbolSize":100,"symbolStrokeWidth":0,"labelFont":"Liberation Sans","labelFontSize":12.5,"labelColor":"#1a1a1a","labelOffset":2,"padding":0,
      "encode":{"symbols":{"update":{"shape":{"signal":"datum.value === 'Total' ? 'M-1.2,0H1.2' : 'square'"},"stroke":{"signal":"datum.value === 'Total' ? '#0a2d8f' : null"},"strokeWidth":{"signal":"datum.value === 'Total' ? 3.5 : 0"}}}}}},
   "fillOpacity":{"field":"p","type":"nominal","scale":{"domain":["a","p"],"range":[1,0.45]},"legend":null},
   "order":{"field":"k","type":"quantitative"}
  }},
 {"data":{"name":"tot"},"mark":{"type":"line","strokeWidth":2.7,"color":"#0a2d8f","strokeJoin":"round"},"encoding":{"x":{"field":"t","type":"quantitative","scale":{"domain":[2007,2029],"range":[105,350],"nice":false,"zero":false},"axis":null},"y":{"field":"v","type":"quantitative","scale":{"domain":[0,7000],"range":[723,524.5],"nice":false,"zero":false},"axis":null},"strokeDash":{"field":"p","type":"nominal","scale":{"domain":["a","p"],"range":[[1,0],[6,4]]},"legend":null}}},
 {"data":{"name":"xg"},"transform":[{"filter":"datum.yr < 2029"}],"mark":{"type":"text","align":"center","baseline":"middle","dy":14,"font":"Liberation Sans","fontSize":12,"color":"#1a1a1a"},"encoding":{"x":{"field":"yr","type":"quantitative","scale":{"domain":[2007,2029],"range":[105,350],"nice":false,"zero":false},"axis":null},"y":{"datum":0,"type":"quantitative","scale":{"domain":[0,7000],"range":[723,524.5],"nice":false,"zero":false},"axis":null},"text":{"field":"yr","type":"quantitative","format":"d"}}},
 {"data":{"name":"yg"},"mark":{"type":"text","align":"right","baseline":"middle","dx":-12,"font":"Liberation Sans","fontSize":12,"color":"#1a1a1a"},"encoding":{"y":{"field":"v","type":"quantitative","scale":{"domain":[0,7000],"range":[723,524.5],"nice":false,"zero":false},"axis":null},"x":{"datum":2007,"type":"quantitative","scale":{"domain":[2007,2029],"range":[105,350],"nice":false,"zero":false},"axis":null},"text":{"field":"v","type":"quantitative","format":"d"}}},
 {"data":{"name":"yg"},"mark":{"type":"text","align":"left","baseline":"middle","dx":10,"font":"Liberation Sans","fontSize":12,"color":"#1a1a1a"},"encoding":{"y":{"field":"v","type":"quantitative","scale":{"domain":[0,7000],"range":[723,524.5],"nice":false,"zero":false},"axis":null},"x":{"datum":2029,"type":"quantitative","scale":{"domain":[2007,2029],"range":[105,350],"nice":false,"zero":false},"axis":null},"text":{"field":"v","type":"quantitative","format":"d"}}}
]},
{"layer":[
 {"data":{"name":"proj"},"mark":{"type":"rect","color":"#e8f0fa"},"encoding":{"x":{"field":"a","type":"quantitative","scale":{"domain":[2007,2029],"range":[449,697],"nice":false,"zero":false},"axis":null},"x2":{"field":"b"},"y":{"datum":0,"type":"quantitative","scale":{"domain":[0,7000],"range":[723,524.5],"nice":false,"zero":false},"axis":null},"y2":{"datum":7000}}},
 {"data":{"name":"xg"},"mark":{"type":"rule","color":"#d9d9d9","strokeWidth":1},"encoding":{"x":{"field":"yr","type":"quantitative","scale":{"domain":[2007,2029],"range":[449,697],"nice":false,"zero":false},"axis":null},"y":{"datum":0,"type":"quantitative","scale":{"domain":[0,7000],"range":[723,524.5],"nice":false,"zero":false},"axis":null},"y2":{"datum":7000}}},
 {"data":{"name":"yg"},"mark":{"type":"rule","color":"#d9d9d9","strokeWidth":1},"encoding":{"y":{"field":"v","type":"quantitative","scale":{"domain":[0,7000],"range":[723,524.5],"nice":false,"zero":false},"axis":null},"x":{"datum":2007,"type":"quantitative","scale":{"domain":[2007,2029],"range":[449,697],"nice":false,"zero":false},"axis":null},"x2":{"datum":2029}}},
 {"data":{"name":"c16"},"transform":[{"fold":["Banknotes","Required reserves","Official sector deposits","Excess liquidity"],"as":["s","v"]},{"lookup":"s","from":{"data":{"values":[{"s":"Banknotes","k":1},{"s":"Required reserves","k":2},{"s":"Official sector deposits","k":3},{"s":"Excess liquidity","k":4}]},"key":"s","fields":["k"]}}],
  "mark":{"type":"area"},
  "encoding":{
   "x":{"field":"t","type":"quantitative","scale":{"domain":[2007,2029],"range":[449,697],"nice":false,"zero":false},"axis":null},
   "y":{"field":"v","type":"quantitative","stack":"zero","scale":{"domain":[0,7000],"range":[723,524.5],"nice":false,"zero":false},"axis":null},
   "color":{"field":"s","type":"nominal","scale":{"domain":["Excess liquidity","Official sector deposits","Required reserves","Banknotes","Total"],"range":["#a6a6a6","#ff5000","#5aab1e","#ffb000","#0a2d8f"]},
     "legend":{"orient":"none","legendX":492,"legendY":480,"title":null,"direction":"vertical","rowPadding":0.8,"symbolType":"M-2,-0.85H2V0.85H-2Z","symbolSize":110,"symbolStrokeWidth":0,"labelFont":"Liberation Sans","labelFontSize":12.5,"labelColor":"#1a1a1a","labelOffset":7,"padding":0,
      "encode":{"symbols":{"update":{"shape":{"signal":"datum.value === 'Total' ? 'M-2,0H2' : 'M-2,-0.85H2V0.85H-2Z'"},"stroke":{"signal":"datum.value === 'Total' ? '#0a2d8f' : null"},"strokeWidth":{"signal":"datum.value === 'Total' ? 3 : 0"}}}}}},
   "fillOpacity":{"field":"p","type":"nominal","scale":{"domain":["a","p"],"range":[1,0.45]},"legend":null},
   "order":{"field":"k","type":"quantitative"}
  }},
 {"data":{"name":"tot"},"mark":{"type":"line","strokeWidth":2.7,"color":"#0a2d8f","strokeJoin":"round"},"encoding":{"x":{"field":"t","type":"quantitative","scale":{"domain":[2007,2029],"range":[449,697],"nice":false,"zero":false},"axis":null},"y":{"field":"v","type":"quantitative","scale":{"domain":[0,7000],"range":[723,524.5],"nice":false,"zero":false},"axis":null},"strokeDash":{"field":"p","type":"nominal","scale":{"domain":["a","p"],"range":[[1,0],[6,4]]},"legend":null}}},
 {"data":{"name":"xg"},"transform":[{"filter":"datum.yr < 2029"}],"mark":{"type":"text","align":"center","baseline":"middle","dy":14,"font":"Liberation Sans","fontSize":12,"color":"#1a1a1a"},"encoding":{"x":{"field":"yr","type":"quantitative","scale":{"domain":[2007,2029],"range":[449,697],"nice":false,"zero":false},"axis":null},"y":{"datum":0,"type":"quantitative","scale":{"domain":[0,7000],"range":[723,524.5],"nice":false,"zero":false},"axis":null},"text":{"field":"yr","type":"quantitative","format":"d"}}},
 {"data":{"name":"yg"},"mark":{"type":"text","align":"right","baseline":"middle","dx":-12,"font":"Liberation Sans","fontSize":12,"color":"#1a1a1a"},"encoding":{"y":{"field":"v","type":"quantitative","scale":{"domain":[0,7000],"range":[723,524.5],"nice":false,"zero":false},"axis":null},"x":{"datum":2007,"type":"quantitative","scale":{"domain":[2007,2029],"range":[449,697],"nice":false,"zero":false},"axis":null},"text":{"field":"v","type":"quantitative","format":"d"}}},
 {"data":{"name":"yg"},"mark":{"type":"text","align":"left","baseline":"middle","dx":10,"font":"Liberation Sans","fontSize":12,"color":"#1a1a1a"},"encoding":{"y":{"field":"v","type":"quantitative","scale":{"domain":[0,7000],"range":[723,524.5],"nice":false,"zero":false},"axis":null},"x":{"datum":2029,"type":"quantitative","scale":{"domain":[2007,2029],"range":[449,697],"nice":false,"zero":false},"axis":null},"text":{"field":"v","type":"quantitative","format":"d"}}}
]}
],
"resolve":{"scale":{"x":"independent","y":"independent","color":"independent"}}
}
